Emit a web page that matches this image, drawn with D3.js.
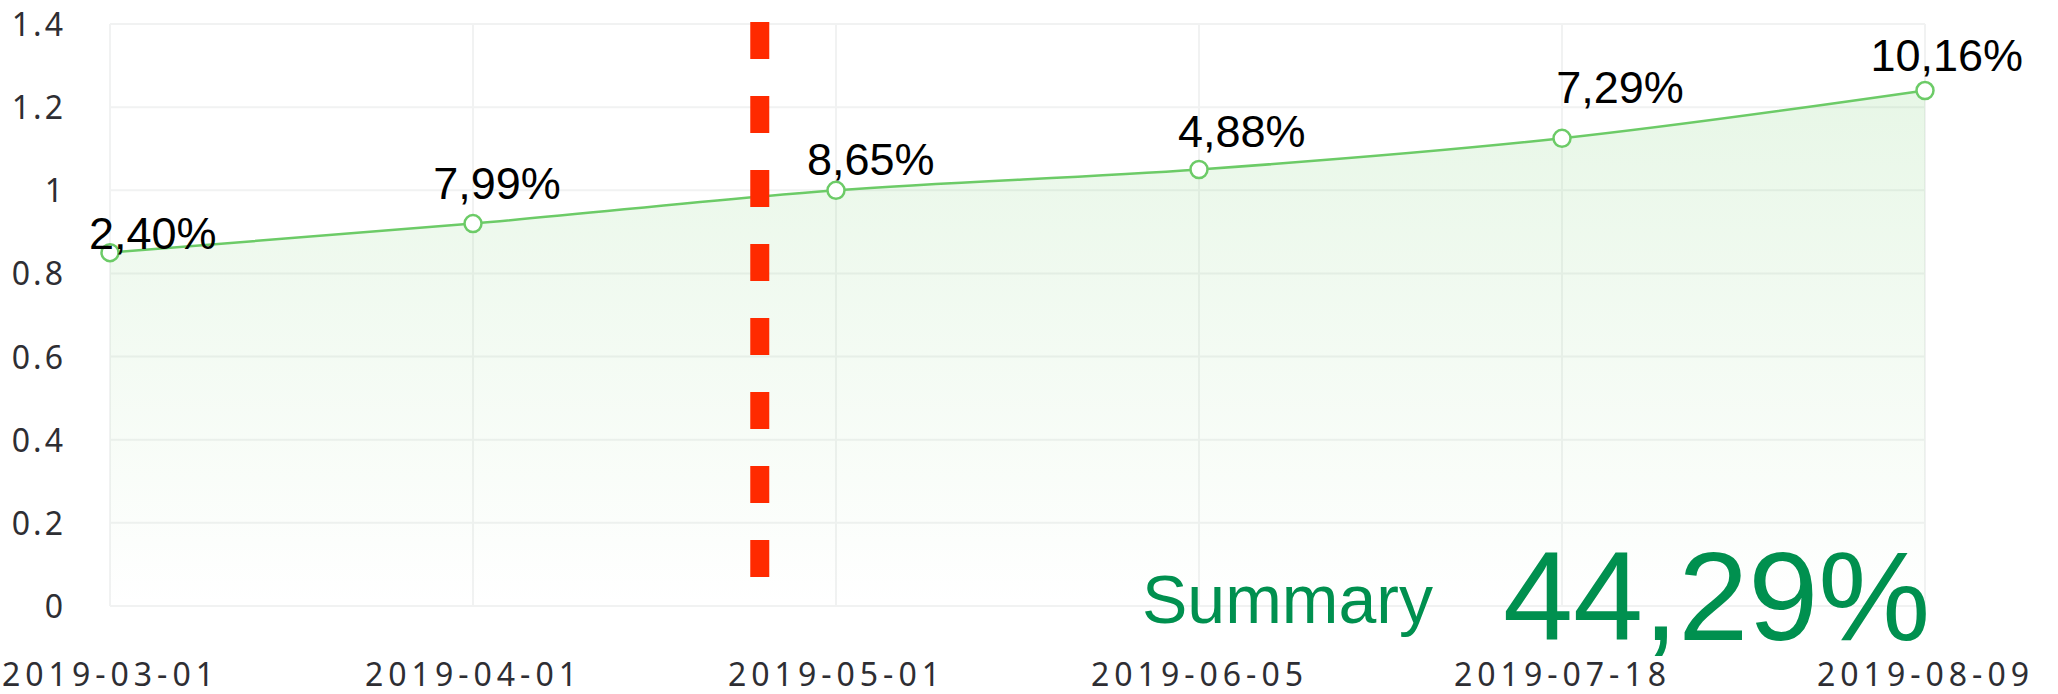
<!doctype html>
<html lang="en">
<head>
    <title></title>
    <script src="https://d3js.org/d3.v7.min.js"></script>
    <style type="text/css">
        body { margin: 0; background: #fff; }
        .tick text { font-family: "Noto Sans", sans-serif; fill: #2e2e33; }
    </style>
</head>

<body>
</body>

<script type="text/javascript">

    var width  = 2058;
    var height = 694;

    // data
    var categories = ["2019-03-01","2019-04-01","2019-05-01","2019-06-05","2019-07-18","2019-08-09"];
    var values     = [0.85, 0.92, 1.0, 1.05, 1.125, 1.24];
    var growth     = ["2,40%","7,99%","8,65%","4,88%","7,29%","10,16%"];
    var yTicks     = [0, 0.2, 0.4, 0.6, 0.8, 1, 1.2, 1.4];

    // where each growth label sits, in data units (index, value)
    var labelIdx = [0.118, 1.066, 2.096, 3.118, 4.16, 5.06];
    var labelVal = [0.859, 0.978, 1.037, 1.104, 1.21, 1.287];

    // red marker between april and may
    var markerIdx = 1.79;

    var summaryLabel = "Summary";
    var summaryValue = "44,29%";

    var margin = {top: 24, right: 133, bottom: 88, left: 110};
    var innerW = width - margin.left - margin.right;
    var innerH = height - margin.top - margin.bottom;

    var x = d3.scaleLinear()
        .domain([0, categories.length - 1])
        .range([0, innerW]);

    var y = d3.scaleLinear()
        .domain([0, 1.4])
        .range([innerH, 0]);

    var svg = d3.select("body")
        .append("svg")
        .attr("width", width)
        .attr("height", height);

    var defs = svg.append("defs");
    var grad = defs.append("linearGradient")
        .attr("id", "areaGrad")
        .attr("x1", 0).attr("y1", 0).attr("x2", 0).attr("y2", 1);
    grad.append("stop").attr("offset", "0%").attr("stop-color", "#6ccb67").attr("stop-opacity", 0.16);
    grad.append("stop").attr("offset", "100%").attr("stop-color", "#6ccb67").attr("stop-opacity", 0.0);

    var g = svg.append("g")
        .attr("transform", "translate(" + margin.left + "," + margin.top + ")");

    // grid
    g.append("g")
        .selectAll("line")
        .data(yTicks)
        .enter()
        .append("line")
        .attr("x1", 0)
        .attr("x2", innerW)
        .attr("y1", d => y(d))
        .attr("y2", d => y(d))
        .style("stroke", "#f1f2f2")
        .style("stroke-width", 2);

    g.append("g")
        .selectAll("line")
        .data(categories)
        .enter()
        .append("line")
        .attr("x1", (d,i) => x(i))
        .attr("x2", (d,i) => x(i))
        .attr("y1", 0)
        .attr("y2", innerH)
        .style("stroke", "#f1f2f2")
        .style("stroke-width", 2);

    // axes
    var yAxis = d3.axisLeft(y)
        .tickValues(yTicks)
        .tickSize(0)
        .tickPadding(44)
        .tickFormat(d => String(+d.toFixed(1)));

    g.append("g")
        .call(yAxis)
        .call(s => s.select(".domain").remove())
        .selectAll("text")
        .style("font-size", "32px")
        .style("letter-spacing", "3px")
        .attr("dy", "0.36em");

    var xAxis = d3.axisBottom(x)
        .tickValues(d3.range(categories.length))
        .tickSize(0)
        .tickPadding(57)
        .tickFormat(i => categories[i]);

    g.append("g")
        .attr("transform", "translate(0," + innerH + ")")
        .call(xAxis)
        .call(s => s.select(".domain").remove())
        .selectAll("text")
        .style("font-size", "32px")
        .style("letter-spacing", "5px");

    // area + line
    var area = d3.area()
        .x((d,i) => x(i))
        .y0(innerH)
        .y1(d => y(d))
        .curve(d3.curveMonotoneX);

    var line = d3.line()
        .x((d,i) => x(i))
        .y(d => y(d))
        .curve(d3.curveMonotoneX);

    g.append("path")
        .datum(values)
        .attr("d", area)
        .style("fill", "url(#areaGrad)");

    g.append("path")
        .datum(values)
        .attr("d", line)
        .style("fill", "none")
        .style("stroke", "#6ccb67")
        .style("stroke-width", 2.5);

    // red dashed marker
    g.append("line")
        .attr("x1", x(markerIdx))
        .attr("x2", x(markerIdx))
        .attr("y1", y(1.4) - 2)
        .attr("y2", innerH)
        .style("stroke", "#ff2a00")
        .style("stroke-width", 19)
        .style("stroke-dasharray", "37,37");

    g.append("g")
        .selectAll("circle")
        .data(values)
        .enter()
        .append("circle")
        .attr("cx", (d,i) => x(i))
        .attr("cy", d => y(d))
        .attr("r", 8.5)
        .style("fill", "#fff")
        .style("stroke", "#6ccb67")
        .style("stroke-width", 2.5);

    // growth labels
    g.append("g")
        .selectAll("text")
        .data(growth)
        .enter()
        .append("text")
        .attr("x", (d,i) => x(labelIdx[i]))
        .attr("y", (d,i) => y(labelVal[i]))
        .attr("text-anchor", "middle")
        .style("font-family", "'Liberation Sans', Arial, sans-serif")
        .style("font-size", "45px")
        .style("fill", "#000")
        .text(d => d);

    // summary
    svg.append("text")
        .attr("x", 1142)
        .attr("y", 623)
        .style("font-family", "'Liberation Sans', Arial, sans-serif")
        .style("font-size", "68px")
        .style("fill", "#00904f")
        .text(summaryLabel);

    svg.append("text")
        .attr("x", 1503)
        .attr("y", 640)
        .style("font-family", "'Liberation Sans', Arial, sans-serif")
        .style("font-size", "126px")
        .style("fill", "#00904f")
        .text(summaryValue);

</script>

</html>
